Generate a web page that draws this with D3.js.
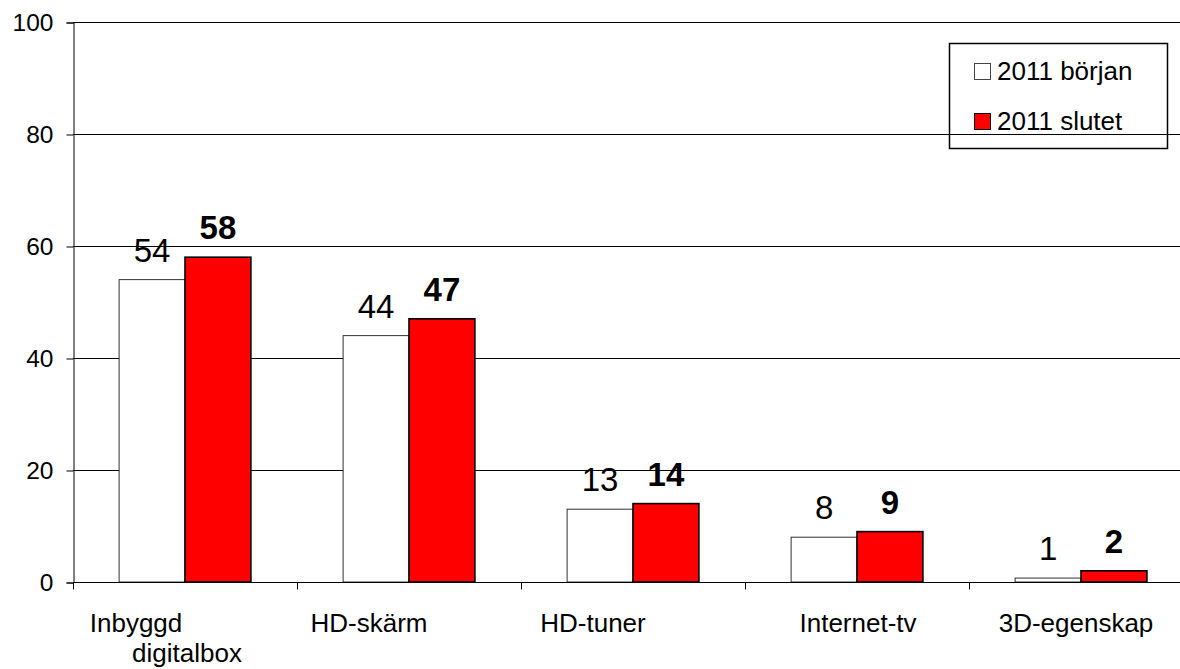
<!DOCTYPE html>
<html>
<head>
<meta charset="utf-8">
<script src="https://cdn.jsdelivr.net/npm/d3@7"></script>
<style>
  body { margin: 0; background: #fff; overflow: hidden; }
  svg { display: block; font-family: Arial, "Liberation Sans", sans-serif; }
</style>
</head>
<body>
<svg id="chart"></svg>
<script>
// data
const categories = [['Inbyggd', 'digitalbox'], ['HD-skärm'], ['HD-tuner'], ['Internet-tv'], ['3D-egenskap']];
const seriesNames = ['2011 början', '2011 slutet'];
const borjan = [54, 44, 13, 8, 0.7];
const slutet = [58, 47, 14, 9, 2];
const yTicks = [0, 20, 40, 60, 80, 100];

const width = 1180, height = 669;
const margin = { left: 73, top: 22, right: -13, bottom: 87 };
const colors = ['#ffffff', '#ff0000'];
// x shifts of the category text (Excel puts them off-centre)
const labelShift = [[-49, 2], [-40], [-40], [1], [-5]];

const svg = d3.select('#chart').attr('width', width).attr('height', height);

const x = d3.scaleBand()
  .domain(d3.range(categories.length))
  .range([margin.left, width - margin.right]);

const x1 = d3.scaleBand()
  .domain([0, 1])
  .range([0, x.bandwidth()])
  .paddingOuter(0.7);

const y = d3.scaleLinear()
  .domain([0, 100])
  .range([height - margin.bottom, margin.top]);

// gridlines
svg.append('g')
  .selectAll('line')
  .data(yTicks.filter(d => d > 0))
  .join('line')
  .attr('x1', margin.left)
  .attr('x2', width)
  .attr('y1', d => Math.round(y(d)) + 0.5)
  .attr('y2', d => Math.round(y(d)) + 0.5)
  .attr('stroke', '#000')
  .attr('stroke-width', 1);

// y axis
const yAxis = d3.axisLeft(y).tickValues(yTicks).tickSize(7).tickPadding(13);
svg.append('g')
  .attr('transform', `translate(${margin.left + 0.5}, 0.5)`)
  .call(yAxis)
  .call(g => g.selectAll('text').attr('font-size', 24.5).attr('fill', '#000').attr('font-family', 'Arial, "Liberation Sans", sans-serif'))
  .call(g => g.selectAll('line, path').attr('stroke', '#000'));

// bars
const series = [borjan, slutet];
series.forEach((vals, s) => {
  svg.append('g')
    .selectAll('rect')
    .data(vals)
    .join('rect')
    .attr('x', (d, i) => x(i) + x1(s))
    .attr('y', d => y(d))
    .attr('width', x1.bandwidth())
    .attr('height', d => y(0) - y(d))
    .attr('fill', colors[s])
    .attr('stroke', s === 0 ? '#333' : '#000')
    .attr('stroke-width', s === 0 ? 1 : 1.6);

  svg.append('g')
    .selectAll('text')
    .data(vals)
    .join('text')
    .attr('x', (d, i) => x(i) + x1(s) + x1.bandwidth() / 2)
    .attr('y', d => y(d) - 18)
    .attr('text-anchor', 'middle')
    .attr('font-size', 33)
    .attr('font-weight', s === 1 ? 'bold' : 'normal')
    .text(d => Math.round(d));
});

// x axis line + ticks between categories
const y0 = Math.round(y(0)) + 0.5;
svg.append('line')
  .attr('x1', margin.left)
  .attr('x2', width)
  .attr('y1', y0)
  .attr('y2', y0)
  .attr('stroke', '#000');

svg.append('g')
  .selectAll('line')
  .data(d3.range(categories.length))
  .join('line')
  .attr('x1', i => Math.round(x(i)) + 0.5)
  .attr('x2', i => Math.round(x(i)) + 0.5)
  .attr('y1', y0)
  .attr('y2', y0 + 7)
  .attr('stroke', '#000');

// category labels
categories.forEach((lines, i) => {
  lines.forEach((t, j) => {
    svg.append('text')
      .attr('x', x(i) + x.bandwidth() / 2 + labelShift[i][j])
      .attr('y', 632 + j * 30)
      .attr('text-anchor', 'middle')
      .attr('font-size', 26)
      .text(t);
  });
});

// legend
const legend = svg.append('g');
legend.append('rect')
  .attr('x', 949.5)
  .attr('y', 43.5)
  .attr('width', 218)
  .attr('height', 105)
  .attr('fill', 'none')
  .attr('stroke', '#000')
  .attr('stroke-width', 1.5);

seriesNames.forEach((name, i) => {
  legend.append('rect')
    .attr('x', 974.5)
    .attr('y', 63.5 + i * 50)
    .attr('width', 16)
    .attr('height', 16)
    .attr('fill', colors[i])
    .attr('stroke', i === 0 ? '#444' : '#000');
  legend.append('text')
    .attr('x', 997)
    .attr('y', 80 + i * 50)
    .attr('font-size', 26)
    .text(name);
});
</script>
</body>
</html>
